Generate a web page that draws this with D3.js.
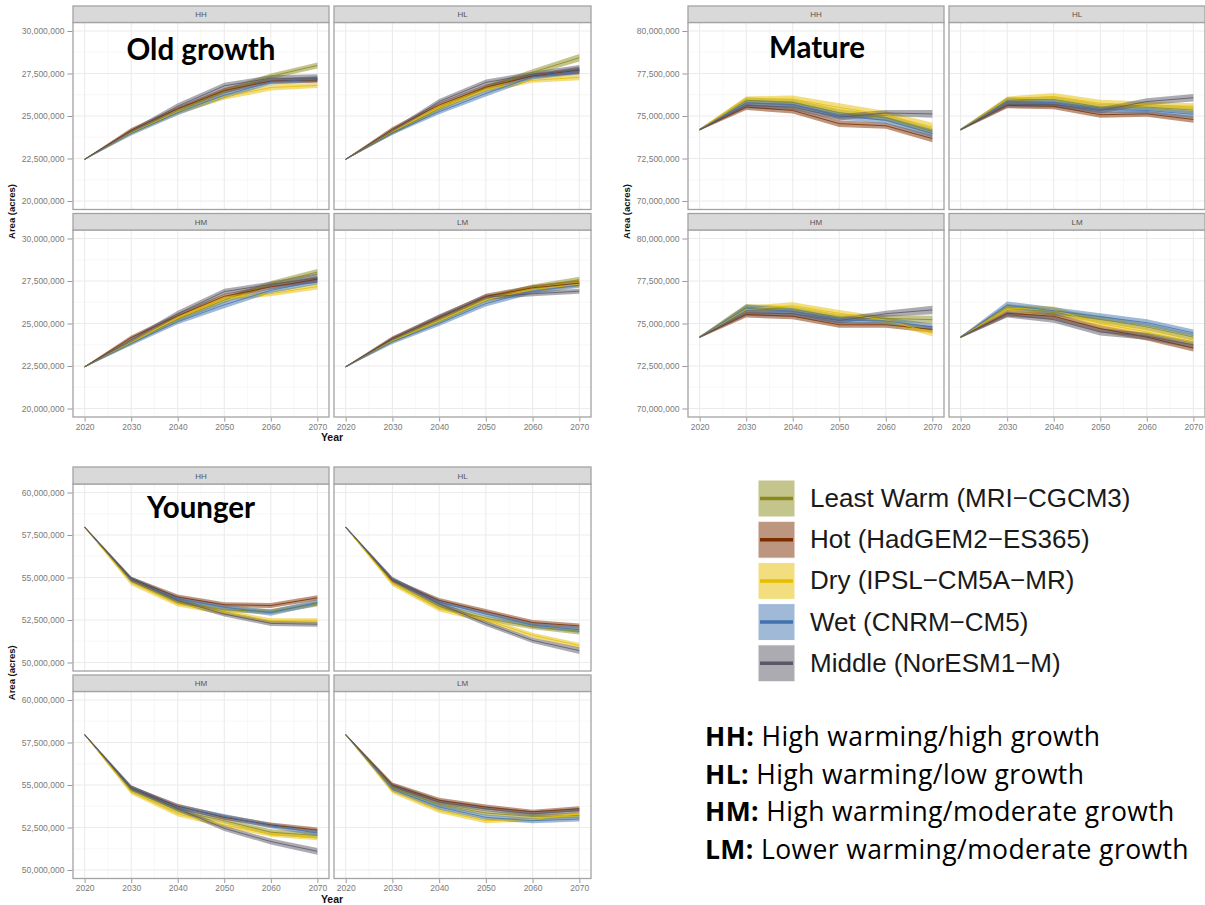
<!DOCTYPE html>
<html><head><meta charset="utf-8">
<script src="https://cdn.jsdelivr.net/npm/d3@7"></script>
<style>body{margin:0;background:#fff} svg{display:block}</style>
</head><body>
<svg id="c" width="1205" height="905"></svg>
<script>
// ---------- data ----------
const years = [2020, 2030, 2040, 2050, 2060, 2070];
const scenarios = ["HH", "HL", "HM", "LM"];
const gcmNames = ["Least Warm (MRI\u2212CGCM3)", "Hot (HadGEM2\u2212ES365)", "Dry (IPSL\u2212CM5A\u2212MR)", "Wet (CNRM\u2212CM5)", "Middle (NorESM1\u2212M)"];
const gcmColors = ["#8a8a1c", "#7b2d00", "#e6be00", "#4273b0", "#5a5766"];
const oldTicks = [20e6, 22.5e6, 25e6, 27.5e6, 30e6];
const matureTicks = [70e6, 72.5e6, 75e6, 77.5e6, 80e6];
const youngerTicks = [50e6, 52.5e6, 55e6, 57.5e6, 60e6];
const explain = [["HH:", " High warming/high growth"], ["HL:", " High warming/low growth"], ["HM:", " High warming/moderate growth"], ["LM:", " Lower warming/moderate growth"]];

// 2020 starting value (millions of acres, low/high)
const oldStart = [22.42, 22.48];
const matureStart = [74.15, 74.25];
const youngerStart = [57.92, 58.0];

// per panel, rows = GCMs (Least, Hot, Dry, Wet, Middle); [low, high] in millions for 2030..2070
const oldHH = [
  [[23.95,24.15],[25.15,25.45],[26.3,26.6],[27.17,27.5],[27.8,28.15]],
  [[24.05,24.3],[25.3,25.55],[26.35,26.65],[26.9,27.2],[26.95,27.3]],
  [[23.9,24.1],[25.1,25.4],[25.95,26.3],[26.5,26.85],[26.65,26.95]],
  [[23.85,24.1],[25.05,25.35],[26.05,26.4],[26.85,27.15],[27.0,27.35]],
  [[24.0,24.2],[25.4,25.75],[26.6,26.95],[27.05,27.4],[27.0,27.45]]];
const oldHL = [
  [[23.9,24.15],[25.3,25.6],[26.5,26.8],[27.4,27.75],[28.2,28.65]],
  [[24.1,24.35],[25.5,25.8],[26.55,26.85],[27.2,27.5],[27.5,27.9]],
  [[23.95,24.2],[25.35,25.65],[26.4,26.7],[26.95,27.25],[27.1,27.45]],
  [[23.9,24.1],[25.1,25.4],[26.15,26.5],[27.15,27.45],[27.45,27.85]],
  [[24.0,24.25],[25.7,26.0],[26.8,27.15],[27.3,27.6],[27.45,28.0]]];
const oldHM = [
  [[23.8,24.05],[25.1,25.4],[26.2,26.55],[27.2,27.5],[27.85,28.2]],
  [[24.05,24.3],[25.3,25.6],[26.45,26.75],[27.0,27.3],[27.4,27.8]],
  [[23.75,24.0],[25.2,25.5],[26.35,26.65],[26.6,26.9],[27.0,27.35]],
  [[23.7,23.95],[24.95,25.25],[25.9,26.3],[26.8,27.1],[27.3,27.7]],
  [[23.9,24.15],[25.4,25.75],[26.7,27.05],[27.15,27.45],[27.4,27.95]]];
const oldLM = [
  [[23.9,24.15],[25.05,25.35],[26.3,26.6],[27.0,27.3],[27.4,27.75]],
  [[24.0,24.25],[25.2,25.5],[26.45,26.75],[26.95,27.25],[27.2,27.55]],
  [[23.85,24.1],[25.0,25.3],[26.25,26.55],[26.85,27.15],[27.15,27.45]],
  [[23.8,24.05],[24.85,25.15],[26.0,26.35],[26.75,27.05],[27.1,27.4]],
  [[23.95,24.2],[25.25,25.55],[26.4,26.7],[26.6,26.9],[26.75,27.05]]];

const matureHH = [
  [[75.75,76.1],[75.6,76.0],[75.0,75.4],[74.7,75.1],[73.9,74.3]],
  [[75.35,75.7],[75.15,75.5],[74.35,74.75],[74.25,74.6],[73.45,73.9]],
  [[75.8,76.15],[75.8,76.2],[75.25,75.75],[74.85,75.3],[74.1,74.6]],
  [[75.6,75.95],[75.5,75.85],[74.8,75.2],[74.55,74.95],[73.75,74.2]],
  [[75.45,75.8],[75.35,75.7],[74.75,75.1],[75.0,75.35],[74.9,75.35]]];
const matureHL = [
  [[75.75,76.1],[75.8,76.15],[75.35,75.7],[75.35,75.7],[75.15,75.55]],
  [[75.45,75.8],[75.4,75.75],[74.9,75.25],[74.95,75.3],[74.6,75.0]],
  [[75.8,76.15],[75.95,76.35],[75.55,75.95],[75.45,75.85],[75.4,75.75]],
  [[75.7,76.05],[75.6,75.95],[75.2,75.55],[75.15,75.5],[74.9,75.3]],
  [[75.5,75.85],[75.5,75.85],[75.15,75.5],[75.65,76.05],[75.85,76.3]]];
const matureHM = [
  [[75.75,76.15],[75.65,76.0],[75.2,75.55],[75.1,75.5],[75.0,75.45]],
  [[75.35,75.7],[75.25,75.6],[74.75,75.1],[74.75,75.1],[74.45,74.85]],
  [[75.65,76.05],[75.85,76.25],[75.4,75.8],[75.0,75.4],[74.25,74.65]],
  [[75.7,76.1],[75.55,75.9],[75.0,75.4],[74.95,75.35],[74.6,75.0]],
  [[75.45,75.8],[75.4,75.75],[75.0,75.35],[75.4,75.75],[75.55,76.05]]];
const matureLM = [
  [[75.75,76.15],[75.45,75.85],[75.05,75.45],[74.6,75.0],[74.0,74.4]],
  [[75.4,75.8],[75.25,75.6],[74.5,74.9],[74.0,74.4],[73.35,73.75]],
  [[75.7,76.1],[75.6,76.0],[74.8,75.2],[74.3,74.7],[73.7,74.1]],
  [[75.85,76.3],[75.55,75.95],[75.2,75.6],[74.85,75.25],[74.25,74.65]],
  [[75.35,75.7],[75.05,75.4],[74.3,74.7],[74.05,74.45],[73.55,73.95]]];

const youngerHH = [
  [[54.7,54.95],[53.4,53.7],[52.95,53.25],[52.85,53.15],[53.3,53.6]],
  [[54.8,55.05],[53.7,54.0],[53.25,53.55],[53.2,53.5],[53.65,53.95]],
  [[54.55,54.85],[53.3,53.6],[52.8,53.1],[52.3,52.6],[52.3,52.6]],
  [[54.75,55.05],[53.6,53.9],[53.1,53.4],[52.75,53.1],[53.35,53.7]],
  [[54.75,55.05],[53.5,53.8],[52.7,53.0],[52.15,52.45],[52.1,52.4]]];
const youngerHL = [
  [[54.6,54.9],[53.15,53.45],[52.45,52.75],[51.95,52.25],[51.65,52.0]],
  [[54.7,54.95],[53.5,53.8],[52.85,53.15],[52.2,52.5],[52.0,52.3]],
  [[54.5,54.8],[53.0,53.3],[52.35,52.65],[51.45,51.75],[50.85,51.15]],
  [[54.75,55.0],[53.4,53.7],[52.7,53.0],[52.05,52.35],[51.75,52.1]],
  [[54.8,55.05],[53.3,53.6],[52.15,52.45],[51.15,51.45],[50.5,50.9]]];
const youngerHM = [
  [[54.55,54.85],[53.35,53.65],[52.75,53.05],[52.05,52.4],[51.85,52.2]],
  [[54.7,54.95],[53.6,53.9],[52.95,53.25],[52.5,52.8],[52.2,52.5]],
  [[54.45,54.75],[53.15,53.45],[52.5,52.8],[51.95,52.25],[51.75,52.05]],
  [[54.65,54.95],[53.55,53.85],[53.0,53.3],[52.45,52.75],[52.0,52.35]],
  [[54.7,55.0],[53.45,53.75],[52.3,52.6],[51.5,51.85],[50.9,51.3]]];
const youngerLM = [
  [[54.7,55.0],[53.7,54.0],[53.2,53.5],[53.0,53.3],[53.05,53.35]],
  [[54.85,55.15],[53.95,54.25],[53.55,53.85],[53.3,53.55],[53.45,53.75]],
  [[54.5,54.8],[53.35,53.65],[52.75,53.05],[52.85,53.1],[53.15,53.45]],
  [[54.6,54.9],[53.55,53.85],[52.95,53.25],[52.75,53.05],[52.85,53.15]],
  [[54.8,55.1],[53.85,54.15],[53.45,53.75],[53.15,53.45],[53.35,53.65]]];

// ---------- layout ----------
const svg = d3.select("#c");
const FONT = "'Liberation Sans', Arial, sans-serif";

const groups = [
  {title: "Old growth", titleX: 201, titleY: 60, panels: [oldHH, oldHL, oldHM, oldLM], start: oldStart, ticks: oldTicks,
   cols: [[73, 329], [334, 591]], rows: [{strip: 6, top: 22.5, bottom: 209.5}, {strip: 213.5, top: 230, bottom: 417}], ylabX: 15, showYear: true},
  {title: "Mature", titleX: 817, titleY: 58, panels: [matureHH, matureHL, matureHM, matureLM], start: matureStart, ticks: matureTicks,
   cols: [[688, 944], [949, 1205]], rows: [{strip: 6, top: 22.5, bottom: 209.5}, {strip: 213.5, top: 230, bottom: 417}], ylabX: 630, showYear: false},
  {title: "Younger", titleX: 201, titleY: 518, panels: [youngerHH, youngerHL, youngerHM, youngerLM], start: youngerStart, ticks: youngerTicks,
   cols: [[73, 329], [334, 591]], rows: [{strip: 467, top: 484, bottom: 671}, {strip: 675, top: 691.5, bottom: 878.5}], ylabX: 15, showYear: true}
];

const fmt = d3.format(",");
let clipId = 0;

groups.forEach(g => {
  const gg = svg.append("g");
  g.panels.forEach((pdata, pi) => {
    const col = g.cols[pi % 2], row = g.rows[Math.floor(pi / 2)];
    const x = d3.scaleLinear().domain([2017.5, 2072.5]).range([col[0], col[1]]);
    const step = g.ticks[1] - g.ticks[0];
    const y = d3.scaleLinear().domain([g.ticks[0] - step * 0.2, g.ticks[g.ticks.length - 1] + step * 0.2]).range([row.bottom, row.top]);
    const p = gg.append("g");
    p.append("rect").attr("x", col[0]).attr("y", row.top).attr("width", col[1] - col[0]).attr("height", row.bottom - row.top).attr("fill", "#fff");
    const minorY = d3.range(g.ticks[0] - step / 2, g.ticks[g.ticks.length - 1] + step, step);
    const minorX = d3.range(2015, 2080, 10);
    p.selectAll(".my").data(minorY.filter(v => y(v) > row.top && y(v) < row.bottom)).join("line")
      .attr("x1", col[0]).attr("x2", col[1]).attr("y1", d => y(d)).attr("y2", d => y(d)).attr("stroke", "#f4f4f4").attr("stroke-width", 0.6);
    p.selectAll(".mx").data(minorX.filter(v => x(v) > col[0] && x(v) < col[1])).join("line")
      .attr("y1", row.top).attr("y2", row.bottom).attr("x1", d => x(d)).attr("x2", d => x(d)).attr("stroke", "#f4f4f4").attr("stroke-width", 0.6);
    p.selectAll(".gy").data(g.ticks).join("line")
      .attr("x1", col[0]).attr("x2", col[1]).attr("y1", d => y(d)).attr("y2", d => y(d)).attr("stroke", "#ebebeb").attr("stroke-width", 1.1);
    p.selectAll(".gx").data(years).join("line")
      .attr("y1", row.top).attr("y2", row.bottom).attr("x1", d => x(d)).attr("x2", d => x(d)).attr("stroke", "#ebebeb").attr("stroke-width", 1.1);
    const cid = "clip" + (clipId++);
    p.append("clipPath").attr("id", cid).append("rect").attr("x", col[0]).attr("y", row.top).attr("width", col[1] - col[0]).attr("height", row.bottom - row.top);
    const plot = p.append("g").attr("clip-path", `url(#${cid})`);
    const series = pdata.map(r => [g.start].concat(r).map((v, i) => ({year: years[i], lo: v[0] * 1e6, hi: v[1] * 1e6})));
    const area = d3.area().x(d => x(d.year)).y0(d => y(d.lo)).y1(d => y(d.hi));
    const line = d3.line().x(d => x(d.year)).y(d => y((d.lo + d.hi) / 2));
    series.forEach((s, k) => {
      plot.append("path").attr("d", area(s)).attr("fill", gcmColors[k]).attr("fill-opacity", 0.5).attr("stroke", "none");
    });
    series.forEach((s, k) => {
      plot.append("path").attr("d", line(s)).attr("fill", "none").attr("stroke", gcmColors[k]).attr("stroke-width", 1).attr("stroke-opacity", 0.8);
    });
    p.append("rect").attr("x", col[0]).attr("y", row.top).attr("width", col[1] - col[0]).attr("height", row.bottom - row.top)
      .attr("fill", "none").attr("stroke", "#a3a3a3").attr("stroke-width", 1.3);
    p.append("rect").attr("x", col[0]).attr("y", row.strip).attr("width", col[1] - col[0]).attr("height", row.top - row.strip)
      .attr("fill", "#d9d9d9").attr("stroke", "#a3a3a3").attr("stroke-width", 1.3);
    p.append("text").attr("x", (col[0] + col[1]) / 2).attr("y", (row.strip + row.top) / 2 + 3).attr("text-anchor", "middle")
      .attr("font-family", FONT).attr("font-size", 8).attr("fill", "#555").text(scenarios[pi]);
    if (pi % 2 === 0) {
      const ax = d3.axisLeft(y).tickValues(g.ticks).tickFormat(fmt).tickSize(5).tickPadding(3);
      const a = p.append("g").attr("transform", `translate(${col[0] - 0.6},0)`).call(ax);
      a.select(".domain").remove();
      a.selectAll("line").attr("stroke", "#999");
      a.selectAll("text").attr("font-family", FONT).attr("font-size", 8.5).attr("fill", "#7a7a7a");
    }
    if (pi >= 2) {
      const ax = d3.axisBottom(x).tickValues(years).tickFormat(d3.format("d")).tickSize(4).tickPadding(2);
      const a = p.append("g").attr("transform", `translate(0,${row.bottom + 0.6})`).call(ax);
      a.select(".domain").remove();
      a.selectAll("line").attr("stroke", "#999");
      a.selectAll("text").attr("font-family", FONT).attr("font-size", 8.5).attr("fill", "#7a7a7a");
    }
  });
  const yc = (g.rows[0].strip + g.rows[1].bottom) / 2;
  gg.append("text").attr("transform", `translate(${g.ylabX},${yc}) rotate(-90)`).attr("text-anchor", "middle")
    .attr("font-family", FONT).attr("font-size", 9.5).attr("font-weight", "bold").attr("fill", "#111").text("Area (acres)");
  if (g.showYear) {
    gg.append("text").attr("x", (g.cols[0][0] + g.cols[1][1]) / 2).attr("y", g.rows[1].bottom + 24).attr("text-anchor", "middle")
      .attr("font-family", FONT).attr("font-size", 10.5).attr("font-weight", "bold").attr("fill", "#111").text("Year");
  }
  gg.append("text").attr("x", g.titleX).attr("y", g.titleY).attr("text-anchor", "middle")
    .attr("font-family", "Lato, 'Open Sans', sans-serif").attr("font-size", 29.5).attr("font-weight", "bold").attr("fill", "#000").text(g.title);
});

// ---------- legend ----------
const leg = svg.append("g");
gcmNames.forEach((name, k) => {
  const ky = 480 + k * 41.2;
  leg.append("rect").attr("x", 758).attr("y", ky).attr("width", 37).attr("height", 37)
    .attr("fill", gcmColors[k]).attr("fill-opacity", 0.5).attr("stroke", "#fff").attr("stroke-width", 1);
  leg.append("line").attr("x1", 760).attr("x2", 793).attr("y1", ky + 18.5).attr("y2", ky + 18.5)
    .attr("stroke", gcmColors[k]).attr("stroke-width", 3.5);
  leg.append("text").attr("x", 810).attr("y", ky + 27).attr("font-family", FONT).attr("font-size", 26).attr("fill", "#1a1a1a").text(name);
});

// ---------- scenario explanations ----------
explain.forEach((e, i) => {
  const t = svg.append("text").attr("x", 705).attr("y", 746 + i * 37.5)
    .attr("font-family", "'Open Sans', Lato, sans-serif").attr("font-size", 26.5).attr("letter-spacing", 0.4).attr("fill", "#000");
  t.append("tspan").attr("font-weight", "bold").text(e[0]);
  t.append("tspan").text(e[1]);
});
</script>
</body></html>
